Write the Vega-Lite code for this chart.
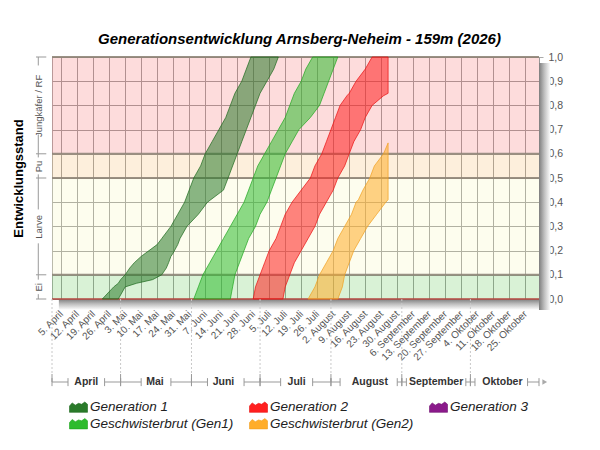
{
  "$schema": "https://vega.github.io/schema/vega-lite/v6.json",
  "width": 487,
  "height": 242,
  "autosize": {"type": "none"},
  "padding": {"left": 52, "top": 57, "right": 61, "bottom": 151},
  "background": "white",
  "title": {
    "text": "Generationsentwicklung Arnsberg-Neheim - 159m (2026)",
    "font": "Liberation Sans",
    "fontSize": 15,
    "fontStyle": "italic",
    "fontWeight": "bold",
    "color": "#000",
    "anchor": "middle",
    "offset": 5,
    "dx": 4
  },
  "datasets": {
    "zonen": [
      {"zone": "Ei", "unten": 0, "oben": 0.1},
      {"zone": "Larve", "unten": 0.1, "oben": 0.5},
      {"zone": "Pu", "unten": 0.5, "oben": 0.6},
      {"zone": "Jungkäfer / RF", "unten": 0.6, "oben": 1}
    ],
    "grenzen": [{"stufe": 0}, {"stufe": 0.1}, {"stufe": 0.5}, {"stufe": 0.6}, {"stufe": 1}],
    "stufenklammer": [
      {"oben": 1, "unten": 0.965},
      {"oben": 0.68, "unten": 0.6},
      {"oben": 0.6, "unten": 0.585},
      {"oben": 0.515, "unten": 0.5},
      {"oben": 0.5, "unten": 0.37},
      {"oben": 0.23, "unten": 0.1},
      {"oben": 0.1, "unten": 0.08},
      {"oben": 0.02, "unten": 0}
    ],
    "monate": [
      {"monat": "April", "beginn": "2026-04-01", "mitte": "2026-04-16"},
      {"monat": "Mai", "beginn": "2026-05-01", "mitte": "2026-05-16"},
      {"monat": "Juni", "beginn": "2026-06-01", "mitte": "2026-06-15"},
      {"monat": "Juli", "beginn": "2026-07-01", "mitte": "2026-07-17"},
      {"monat": "August", "beginn": "2026-08-01", "mitte": "2026-08-18"},
      {"monat": "September", "beginn": "2026-09-01", "mitte": "2026-09-16"},
      {"monat": "Oktober", "beginn": "2026-10-01", "mitte": "2026-10-15"}
    ],
    "klammer": [
      {"von": "2026-04-01", "bis": "2026-04-08"},
      {"von": "2026-04-24", "bis": "2026-05-01"},
      {"von": "2026-05-01", "bis": "2026-05-10"},
      {"von": "2026-05-23", "bis": "2026-06-01"},
      {"von": "2026-06-01", "bis": "2026-06-08"},
      {"von": "2026-06-24", "bis": "2026-07-01"},
      {"von": "2026-07-01", "bis": "2026-07-10"},
      {"von": "2026-07-24", "bis": "2026-08-01"},
      {"von": "2026-08-01", "bis": "2026-08-05"},
      {"von": "2026-08-30", "bis": "2026-09-01"},
      {"von": "2026-09-01", "bis": "2026-09-03"},
      {"von": "2026-09-29", "bis": "2026-10-01"},
      {"von": "2026-10-01", "bis": "2026-10-03"},
      {"von": "2026-10-26", "bis": "2026-10-31"}
    ],
    "entwicklung": [
      {"serie": "Generation 1", "stufe": 0, "von": "2026-04-23", "bis": "2026-04-30"},
      {"serie": "Generation 1", "stufe": 0.05, "von": "2026-04-28", "bis": "2026-05-03"},
      {"serie": "Generation 1", "stufe": 0.065, "von": "2026-04-30", "bis": "2026-05-08"},
      {"serie": "Generation 1", "stufe": 0.08, "von": "2026-05-01", "bis": "2026-05-15"},
      {"serie": "Generation 1", "stufe": 0.1, "von": "2026-05-03", "bis": "2026-05-19"},
      {"serie": "Generation 1", "stufe": 0.128, "von": "2026-05-05", "bis": "2026-05-21"},
      {"serie": "Generation 1", "stufe": 0.15, "von": "2026-05-07", "bis": "2026-05-22"},
      {"serie": "Generation 1", "stufe": 0.176, "von": "2026-05-10", "bis": "2026-05-23"},
      {"serie": "Generation 1", "stufe": 0.19, "von": "2026-05-12", "bis": "2026-05-24"},
      {"serie": "Generation 1", "stufe": 0.225, "von": "2026-05-17", "bis": "2026-05-26"},
      {"serie": "Generation 1", "stufe": 0.25, "von": "2026-05-19", "bis": "2026-05-27"},
      {"serie": "Generation 1", "stufe": 0.3, "von": "2026-05-23", "bis": "2026-05-30"},
      {"serie": "Generation 1", "stufe": 0.35, "von": "2026-05-26", "bis": "2026-06-04"},
      {"serie": "Generation 1", "stufe": 0.4, "von": "2026-05-29", "bis": "2026-06-08"},
      {"serie": "Generation 1", "stufe": 0.45, "von": "2026-05-31", "bis": "2026-06-15"},
      {"serie": "Generation 1", "stufe": 0.5, "von": "2026-06-02", "bis": "2026-06-17"},
      {"serie": "Generation 1", "stufe": 0.55, "von": "2026-06-05", "bis": "2026-06-19"},
      {"serie": "Generation 1", "stufe": 0.6, "von": "2026-06-07", "bis": "2026-06-21"},
      {"serie": "Generation 1", "stufe": 0.65, "von": "2026-06-10", "bis": "2026-06-23"},
      {"serie": "Generation 1", "stufe": 0.7, "von": "2026-06-13", "bis": "2026-06-25"},
      {"serie": "Generation 1", "stufe": 0.75, "von": "2026-06-16", "bis": "2026-06-27"},
      {"serie": "Generation 1", "stufe": 0.8, "von": "2026-06-18", "bis": "2026-06-29"},
      {"serie": "Generation 1", "stufe": 0.85, "von": "2026-06-20", "bis": "2026-07-01"},
      {"serie": "Generation 1", "stufe": 0.9, "von": "2026-06-23", "bis": "2026-07-04"},
      {"serie": "Generation 1", "stufe": 0.95, "von": "2026-06-25", "bis": "2026-07-07"},
      {"serie": "Generation 1", "stufe": 1, "von": "2026-06-27", "bis": "2026-07-09"},

      {"serie": "Geschwisterbrut (Gen1)", "stufe": 0, "von": "2026-06-02", "bis": "2026-06-18"},
      {"serie": "Geschwisterbrut (Gen1)", "stufe": 0.05, "von": "2026-06-04", "bis": "2026-06-19"},
      {"serie": "Geschwisterbrut (Gen1)", "stufe": 0.1, "von": "2026-06-06", "bis": "2026-06-20"},
      {"serie": "Geschwisterbrut (Gen1)", "stufe": 0.15, "von": "2026-06-09", "bis": "2026-06-22"},
      {"serie": "Geschwisterbrut (Gen1)", "stufe": 0.2, "von": "2026-06-12", "bis": "2026-06-24"},
      {"serie": "Geschwisterbrut (Gen1)", "stufe": 0.25, "von": "2026-06-15", "bis": "2026-06-26"},
      {"serie": "Geschwisterbrut (Gen1)", "stufe": 0.3, "von": "2026-06-18", "bis": "2026-06-29"},
      {"serie": "Geschwisterbrut (Gen1)", "stufe": 0.35, "von": "2026-06-21", "bis": "2026-07-01"},
      {"serie": "Geschwisterbrut (Gen1)", "stufe": 0.4, "von": "2026-06-24", "bis": "2026-07-04"},
      {"serie": "Geschwisterbrut (Gen1)", "stufe": 0.45, "von": "2026-06-26", "bis": "2026-07-06"},
      {"serie": "Geschwisterbrut (Gen1)", "stufe": 0.5, "von": "2026-06-28", "bis": "2026-07-08"},
      {"serie": "Geschwisterbrut (Gen1)", "stufe": 0.55, "von": "2026-06-30", "bis": "2026-07-10"},
      {"serie": "Geschwisterbrut (Gen1)", "stufe": 0.6, "von": "2026-07-03", "bis": "2026-07-12"},
      {"serie": "Geschwisterbrut (Gen1)", "stufe": 0.65, "von": "2026-07-06", "bis": "2026-07-15"},
      {"serie": "Geschwisterbrut (Gen1)", "stufe": 0.7, "von": "2026-07-09", "bis": "2026-07-18"},
      {"serie": "Geschwisterbrut (Gen1)", "stufe": 0.75, "von": "2026-07-12", "bis": "2026-07-23"},
      {"serie": "Geschwisterbrut (Gen1)", "stufe": 0.8, "von": "2026-07-14", "bis": "2026-07-27"},
      {"serie": "Geschwisterbrut (Gen1)", "stufe": 0.85, "von": "2026-07-16", "bis": "2026-07-29"},
      {"serie": "Geschwisterbrut (Gen1)", "stufe": 0.9, "von": "2026-07-19", "bis": "2026-07-31"},
      {"serie": "Geschwisterbrut (Gen1)", "stufe": 0.95, "von": "2026-07-21", "bis": "2026-08-02"},
      {"serie": "Geschwisterbrut (Gen1)", "stufe": 1, "von": "2026-07-24", "bis": "2026-08-04"},

      {"serie": "Generation 2", "stufe": 0, "von": "2026-06-28", "bis": "2026-07-11"},
      {"serie": "Generation 2", "stufe": 0.05, "von": "2026-06-29", "bis": "2026-07-12"},
      {"serie": "Generation 2", "stufe": 0.1, "von": "2026-07-01", "bis": "2026-07-14"},
      {"serie": "Generation 2", "stufe": 0.15, "von": "2026-07-03", "bis": "2026-07-16"},
      {"serie": "Generation 2", "stufe": 0.2, "von": "2026-07-05", "bis": "2026-07-19"},
      {"serie": "Generation 2", "stufe": 0.25, "von": "2026-07-08", "bis": "2026-07-22"},
      {"serie": "Generation 2", "stufe": 0.3, "von": "2026-07-10", "bis": "2026-07-25"},
      {"serie": "Generation 2", "stufe": 0.35, "von": "2026-07-12", "bis": "2026-07-27"},
      {"serie": "Generation 2", "stufe": 0.4, "von": "2026-07-15", "bis": "2026-07-30"},
      {"serie": "Generation 2", "stufe": 0.45, "von": "2026-07-19", "bis": "2026-08-02"},
      {"serie": "Generation 2", "stufe": 0.5, "von": "2026-07-23", "bis": "2026-08-04"},
      {"serie": "Generation 2", "stufe": 0.55, "von": "2026-07-25", "bis": "2026-08-07"},
      {"serie": "Generation 2", "stufe": 0.6, "von": "2026-07-28", "bis": "2026-08-09"},
      {"serie": "Generation 2", "stufe": 0.65, "von": "2026-07-30", "bis": "2026-08-11"},
      {"serie": "Generation 2", "stufe": 0.7, "von": "2026-08-01", "bis": "2026-08-14"},
      {"serie": "Generation 2", "stufe": 0.75, "von": "2026-08-03", "bis": "2026-08-16"},
      {"serie": "Generation 2", "stufe": 0.8, "von": "2026-08-05", "bis": "2026-08-19"},
      {"serie": "Generation 2", "stufe": 0.84, "von": "2026-08-08", "bis": "2026-08-24"},
      {"serie": "Generation 2", "stufe": 0.85, "von": "2026-08-09", "bis": "2026-08-26"},
      {"serie": "Generation 2", "stufe": 0.9, "von": "2026-08-12", "bis": "2026-08-26"},
      {"serie": "Generation 2", "stufe": 0.95, "von": "2026-08-16", "bis": "2026-08-26"},
      {"serie": "Generation 2", "stufe": 1, "von": "2026-08-19", "bis": "2026-08-26"},

      {"serie": "Geschwisterbrut (Gen2)", "stufe": 0, "von": "2026-07-22", "bis": "2026-08-04"},
      {"serie": "Geschwisterbrut (Gen2)", "stufe": 0.05, "von": "2026-07-25", "bis": "2026-08-06"},
      {"serie": "Geschwisterbrut (Gen2)", "stufe": 0.1, "von": "2026-07-27", "bis": "2026-08-07"},
      {"serie": "Geschwisterbrut (Gen2)", "stufe": 0.15, "von": "2026-07-30", "bis": "2026-08-09"},
      {"serie": "Geschwisterbrut (Gen2)", "stufe": 0.2, "von": "2026-08-02", "bis": "2026-08-11"},
      {"serie": "Geschwisterbrut (Gen2)", "stufe": 0.25, "von": "2026-08-04", "bis": "2026-08-14"},
      {"serie": "Geschwisterbrut (Gen2)", "stufe": 0.3, "von": "2026-08-07", "bis": "2026-08-17"},
      {"serie": "Geschwisterbrut (Gen2)", "stufe": 0.35, "von": "2026-08-10", "bis": "2026-08-21"},
      {"serie": "Geschwisterbrut (Gen2)", "stufe": 0.4, "von": "2026-08-12", "bis": "2026-08-25"},
      {"serie": "Geschwisterbrut (Gen2)", "stufe": 0.41, "von": "2026-08-13", "bis": "2026-08-26"},
      {"serie": "Geschwisterbrut (Gen2)", "stufe": 0.45, "von": "2026-08-15", "bis": "2026-08-26"},
      {"serie": "Geschwisterbrut (Gen2)", "stufe": 0.5, "von": "2026-08-18", "bis": "2026-08-26"},
      {"serie": "Geschwisterbrut (Gen2)", "stufe": 0.55, "von": "2026-08-20", "bis": "2026-08-26"},
      {"serie": "Geschwisterbrut (Gen2)", "stufe": 0.6, "von": "2026-08-24", "bis": "2026-08-26"},
      {"serie": "Geschwisterbrut (Gen2)", "stufe": 0.645, "von": "2026-08-26", "bis": "2026-08-26"}
    ]
  },
  "layer": [
    {
      "data": {"values": [{}]},
      "mark": {"type": "rect", "fill": {"gradient": "linear", "x1": 0, "y1": 0, "x2": 1, "y2": 0, "stops": [{"offset": 0, "color": "#7d7d7d"}, {"offset": 0.45, "color": "#bdbdbd"}, {"offset": 1, "color": "#ffffff"}]}},
      "encoding": {
        "x": {"datum": {"year": 2026, "month": 10, "date": 31, "utc": true}, "type": "temporal"},
        "x2": {"datum": {"year": 2026, "month": 11, "date": 5, "utc": true}},
        "y": {"datum": 0.975, "type": "quantitative", "axis": null},
        "y2": {"datum": -0.045}
      }
    },
    {
      "data": {"values": [{}]},
      "mark": {"type": "rect", "fill": {"gradient": "linear", "x1": 0, "y1": 0, "x2": 0, "y2": 1, "stops": [{"offset": 0, "color": "#7d7d7d"}, {"offset": 0.45, "color": "#bdbdbd"}, {"offset": 1, "color": "#ffffff"}]}},
      "encoding": {
        "x": {"datum": {"year": 2026, "month": 4, "date": 4, "utc": true}, "type": "temporal"},
        "x2": {"datum": {"year": 2026, "month": 10, "date": 31, "utc": true}},
        "y": {"datum": 0, "type": "quantitative", "axis": null},
        "y2": {"datum": -0.045}
      }
    },
    {
      "data": {"name": "zonen"},
      "mark": {"type": "rect", "opacity": 0.35},
      "encoding": {
        "y": {
          "field": "unten",
          "type": "quantitative",
          "scale": {"domain": [0, 1], "nice": false},
          "axis": {
            "orient": "left",
            "values": [0.05, 0.3, 0.55, 0.8],
            "labelExpr": "datum.value < 0.1 ? 'Ei' : datum.value < 0.5 ? 'Larve' : datum.value < 0.6 ? 'Pu' : 'Jungkäfer / RF'",
            "labelAngle": -90,
            "labelAlign": "center",
            "labelBaseline": "middle",
            "labelFontSize": 9.5,
            "labelColor": "#555",
            "labelPadding": 14,
            "ticks": false,
            "domain": false,
            "grid": false,
            "title": "Entwicklungsstand",
            "titleFontSize": 13,
            "titleFontWeight": "bold",
            "titleColor": "#000",
            "titlePadding": 8
          }
        },
        "y2": {"field": "oben"},
        "fill": {
          "field": "zone",
          "type": "nominal",
          "scale": {"domain": ["Ei", "Larve", "Pu", "Jungkäfer / RF"], "range": ["#92da8a", "#f9f9ce", "#f9d19b", "#f99b9b"]},
          "legend": null
        }
      }
    },
    {
      "data": {"name": "zonen"},
      "mark": {"type": "rule", "color": "#8f8578", "strokeWidth": 2, "opacity": 0.9},
      "encoding": {
        "y": {"field": "oben", "type": "quantitative", "axis": null}
      }
    },
    {
      "data": {"values": [{}]},
      "mark": {"type": "rule", "color": "#b5473f", "strokeWidth": 1.5},
      "encoding": {
        "y": {"datum": 0, "type": "quantitative", "axis": null}
      }
    },
    {
      "data": {"name": "entwicklung"},
      "mark": {"type": "area", "orient": "horizontal", "fillOpacity": 0.55, "strokeOpacity": 0.7, "strokeWidth": 1},
      "encoding": {
        "y": {
          "field": "stufe",
          "type": "quantitative",
          "stack": null,
          "scale": {"domain": [0, 1], "nice": false},
          "axis": {
            "orient": "right",
            "values": [0, 0.1, 0.2, 0.3, 0.4, 0.5, 0.6, 0.7, 0.8, 0.9, 1],
            "labelExpr": "replace(format(datum.value, '.1f'), '.', ',')",
            "labelFontSize": 10.5,
            "labelColor": "#555",
            "labelPadding": 5,
            "tickSize": 4,
            "tickColor": "#aaa",
            "domain": false,
            "grid": true,
            "gridColor": "#8a8a8a",
            "gridWidth": 1,
            "title": null
          }
        },
        "x": {
          "field": "von",
          "type": "temporal",
          "scale": {
            "type": "utc",
            "domain": [{"year": 2026, "month": 4, "date": 1, "utc": true}, {"year": 2026, "month": 10, "date": 31, "utc": true}]
          },
          "axis": {
            "title": null,
            "tickCount": {"interval": "week", "step": 1},
            "labelExpr": "utcdate(datum.value) + '. ' + ['Januar','Februar','März','April','Mai','Juni','Juli','August','September','Oktober','November','Dezember'][utcmonth(datum.value)]",
            "labelAngle": -45,
            "labelAlign": "right",
            "labelBaseline": "middle",
            "labelFontSize": 10,
            "labelColor": "#555",
            "labelPadding": 10,
            "labelOverlap": false,
            "labelBound": false,
            "labelFlush": false,
            "tickSize": 3,
            "tickColor": "#ccc",
            "domain": false,
            "grid": true,
            "gridColor": "#8a8a8a",
            "gridWidth": 1
          }
        },
        "x2": {"field": "bis"},
        "color": {
          "field": "serie",
          "type": "nominal",
          "scale": {
            "domain": ["Generation 1", "Generation 2", "Generation 3", "Geschwisterbrut (Gen1)", "Geschwisterbrut (Gen2)"],
            "range": ["#2a7a2a", "#ff1f1f", "#8b1a8b", "#2dbb2d", "#ffad2a"]
          },
          "legend": {
            "title": null,
            "orient": "none",
            "legendX": 17,
            "legendY": 340,
            "direction": "horizontal",
            "columns": 3,
            "columnPadding": 14,
            "rowPadding": 0,
            "padding": 0,
            "symbolType": "M-1,0.6L-1,-0.1L-0.7,-0.45L-0.35,-0.2L0,-0.4L0.35,-0.3L0.7,-0.55L1,-0.3L1,0.6Z",
            "symbolSize": 324,
            "symbolStrokeColor": "#222",
            "symbolStrokeWidth": 0.6,
            "symbolOpacity": 1,
            "labelFont": "Liberation Sans",
            "labelFontStyle": "italic",
            "labelFontSize": 13.5,
            "labelColor": "#222",
            "labelOffset": 2,
            "labelLimit": 300
          }
        },
        "stroke": {
          "field": "serie",
          "type": "nominal",
          "scale": {
            "domain": ["Generation 1", "Generation 2", "Generation 3", "Geschwisterbrut (Gen1)", "Geschwisterbrut (Gen2)"],
            "range": ["#1e6a1e", "#e81010", "#701070", "#1fa51f", "#f0a020"]
          },
          "legend": null
        }
      }
    },
    {
      "data": {"name": "monate"},
      "mark": {"type": "rule", "color": "#c8c8c8", "strokeDash": [2, 2], "strokeWidth": 1},
      "encoding": {
        "x": {"field": "beginn", "type": "temporal"},
        "y": {"datum": 0, "type": "quantitative", "axis": null},
        "y2": {"datum": -0.31}
      }
    },
    {
      "data": {"name": "monate"},
      "mark": {"type": "rule", "color": "#999", "strokeWidth": 1},
      "encoding": {
        "x": {"field": "beginn", "type": "temporal"},
        "y": {"datum": -0.31, "type": "quantitative", "axis": null},
        "y2": {"datum": -0.343}
      }
    },
    {
      "data": {"name": "klammer"},
      "mark": {"type": "rule", "color": "#999", "strokeWidth": 1},
      "encoding": {
        "x": {"field": "von", "type": "temporal"},
        "x2": {"field": "bis"},
        "y": {"datum": -0.343, "type": "quantitative", "axis": null}
      }
    },
    {
      "data": {"name": "klammer"},
      "mark": {"type": "rule", "color": "#999", "strokeWidth": 1},
      "encoding": {
        "x": {"field": "von", "type": "temporal"},
        "y": {"datum": -0.327, "type": "quantitative", "axis": null},
        "y2": {"datum": -0.36}
      }
    },
    {
      "data": {"name": "klammer"},
      "mark": {"type": "rule", "color": "#999", "strokeWidth": 1},
      "encoding": {
        "x": {"field": "bis", "type": "temporal"},
        "y": {"datum": -0.327, "type": "quantitative", "axis": null},
        "y2": {"datum": -0.36}
      }
    },
    {
      "data": {"name": "monate"},
      "mark": {"type": "text", "fontWeight": "bold", "fontSize": 10.5, "color": "#333", "align": "center", "baseline": "middle"},
      "encoding": {
        "x": {"field": "mitte", "type": "temporal"},
        "y": {"datum": -0.343, "type": "quantitative", "axis": null},
        "text": {"field": "monat"}
      }
    },
    {
      "data": {"values": [{}]},
      "mark": {"type": "point", "shape": "triangle-right", "filled": true, "color": "#aaa", "size": 30, "opacity": 1},
      "encoding": {
        "x": {"datum": {"year": 2026, "month": 11, "date": 2, "hours": 12, "utc": true}, "type": "temporal"},
        "y": {"datum": -0.343, "type": "quantitative", "axis": null}
      }
    },
    {
      "data": {"name": "stufenklammer"},
      "mark": {"type": "rule", "color": "#999", "strokeWidth": 1},
      "encoding": {
        "x": {"datum": {"year": 2026, "month": 3, "date": 26, "utc": true}, "type": "temporal"},
        "y": {"field": "oben", "type": "quantitative", "axis": null},
        "y2": {"field": "unten"}
      }
    },
    {
      "data": {"name": "grenzen"},
      "mark": {"type": "rule", "color": "#999", "strokeWidth": 1},
      "encoding": {
        "x": {"datum": {"year": 2026, "month": 3, "date": 25, "utc": true}, "type": "temporal"},
        "x2": {"datum": {"year": 2026, "month": 3, "date": 29, "hours": 12, "utc": true}},
        "y": {"field": "stufe", "type": "quantitative", "axis": null}
      }
    }
  ],
  "resolve": {"axis": {"y": "independent"}},
  "config": {
    "font": "Liberation Sans",
    "view": {"stroke": "#999", "strokeWidth": 1},
    "axis": {"labelFont": "Liberation Sans", "titleFont": "Liberation Sans"},
    "legend": {"labelFont": "Liberation Sans"}
  }
}
